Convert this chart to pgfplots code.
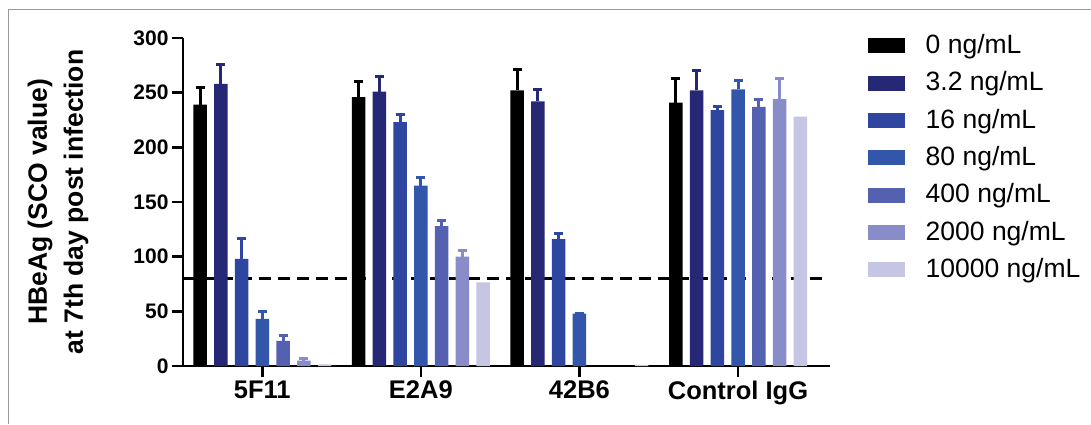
\documentclass[border=0pt]{standalone}
\usepackage{fontspec}
\setmainfont{Liberation Sans}
\usepackage{pgfplots}
\pgfplotsset{compat=1.18}
\definecolor{c1}{RGB}{38,40,118}
\definecolor{c2}{RGB}{46,70,160}
\definecolor{c3}{RGB}{50,86,170}
\definecolor{c4}{RGB}{84,96,176}
\definecolor{c5}{RGB}{136,140,200}
\definecolor{c6}{RGB}{196,198,228}
\pgfplotsset{errb/.style={error bars/.cd, y dir=plus, y explicit,
  error bar style={#1, line width=3pt},
  error mark options={#1, rotate=90, line width=3pt, mark size=4.5pt}}}
\begin{document}
\begin{tikzpicture}[x=1pt,y=1pt]
\useasboundingbox (0,0) rectangle (1091,424);
\fill[white] (0,0) rectangle (1091,424);
\draw[line width=1.5pt, black!40] (8.3,0) -- (8.3,414.7) -- (1091,414.7);
\begin{axis}[
  at={(183pt,58pt)}, anchor=south west, scale only axis,
  width=647pt, height=328pt,
  xmin=-0.5, xmax=3.58, ymin=0, ymax=300,
  ybar=7.25pt, bar width=13.5pt,
  axis x line*=bottom, axis y line*=left,
  axis line style={line width=2.5pt, -},
  x axis line style={-}, y axis line style={-},
  xtick={0,1,2,3}, xticklabels={5F11,E2A9,42B6,Control IgG},
  ytick={0,50,...,300},
  tick align=outside, major tick length=11pt,
  tick style={line width=2.5pt, black},
  /pgf/number format/assume math mode=true,
  xticklabel style={font=\fontsize{25.5}{30}\selectfont\bfseries},
  yticklabel style={font=\fontsize{21}{25}\selectfont\bfseries},
  ylabel={HBeAg (SCO value)\\at 7th day post infection},
  ylabel style={font=\fontsize{26.5}{36}\selectfont\bfseries, align=center,
    at={(axis description cs:-0.146,0.5)}, anchor=south, inner sep=0pt},
  every axis plot/.append style={legend image code/.code={\fill[##1] (0pt,-6.5pt) rectangle (37pt,8.5pt);}},
  legend style={at={(axis description cs:1.058,1.011)}, anchor=north west,
    draw=none, fill=none, inner sep=0pt, column sep=21pt, row sep=12.8pt,
    nodes={inner sep=0pt, text height=19pt, text depth=5.5pt, font=\fontsize{26.5}{30}\selectfont},
    cells={anchor=west}},
  clip=false,
]
\draw[black, line width=2.5pt, dash pattern=on 12pt off 7pt] (axis cs:-0.5,80) -- (axis cs:3.55,80);
\addplot[fill=black, draw=none, errb=black]
  coordinates {(0,239) +- (0,16) (1,246) +- (0,14) (2,252) +- (0,19) (3,241) +- (0,22)};
\addplot[fill=c1, draw=none, errb=c1]
  coordinates {(0,258) +- (0,18) (1,251) +- (0,14) (2,242) +- (0,11) (3,252) +- (0,18)};
\addplot[fill=c2, draw=none, errb=c2]
  coordinates {(0,98) +- (0,19) (1,223) +- (0,7) (2,116) +- (0,5) (3,234) +- (0,3.5)};
\addplot[fill=c3, draw=none, errb=c3]
  coordinates {(0,43) +- (0,7) (1,165) +- (0,7) (2,48) +- (0,0) (3,253) +- (0,8)};
\addplot[fill=c4, draw=none, errb=c4]
  coordinates {(0,23) +- (0,5) (1,128) +- (0,5) (3,237) +- (0,7)};
\addplot[fill=c5, draw=none, errb=c5]
  coordinates {(0,5) +- (0,1.5) (1,100) +- (0,5.5) (3,244) +- (0,19)};
\addplot[fill=c6, draw=none]
  coordinates {(0,1.5) (1,76.5) (2,1) (3,228)};
\legend{0 ng/mL, 3.2 ng/mL, 16 ng/mL, 80 ng/mL, 400 ng/mL, 2000 ng/mL, 10000 ng/mL}
\end{axis}
\end{tikzpicture}
\end{document}
